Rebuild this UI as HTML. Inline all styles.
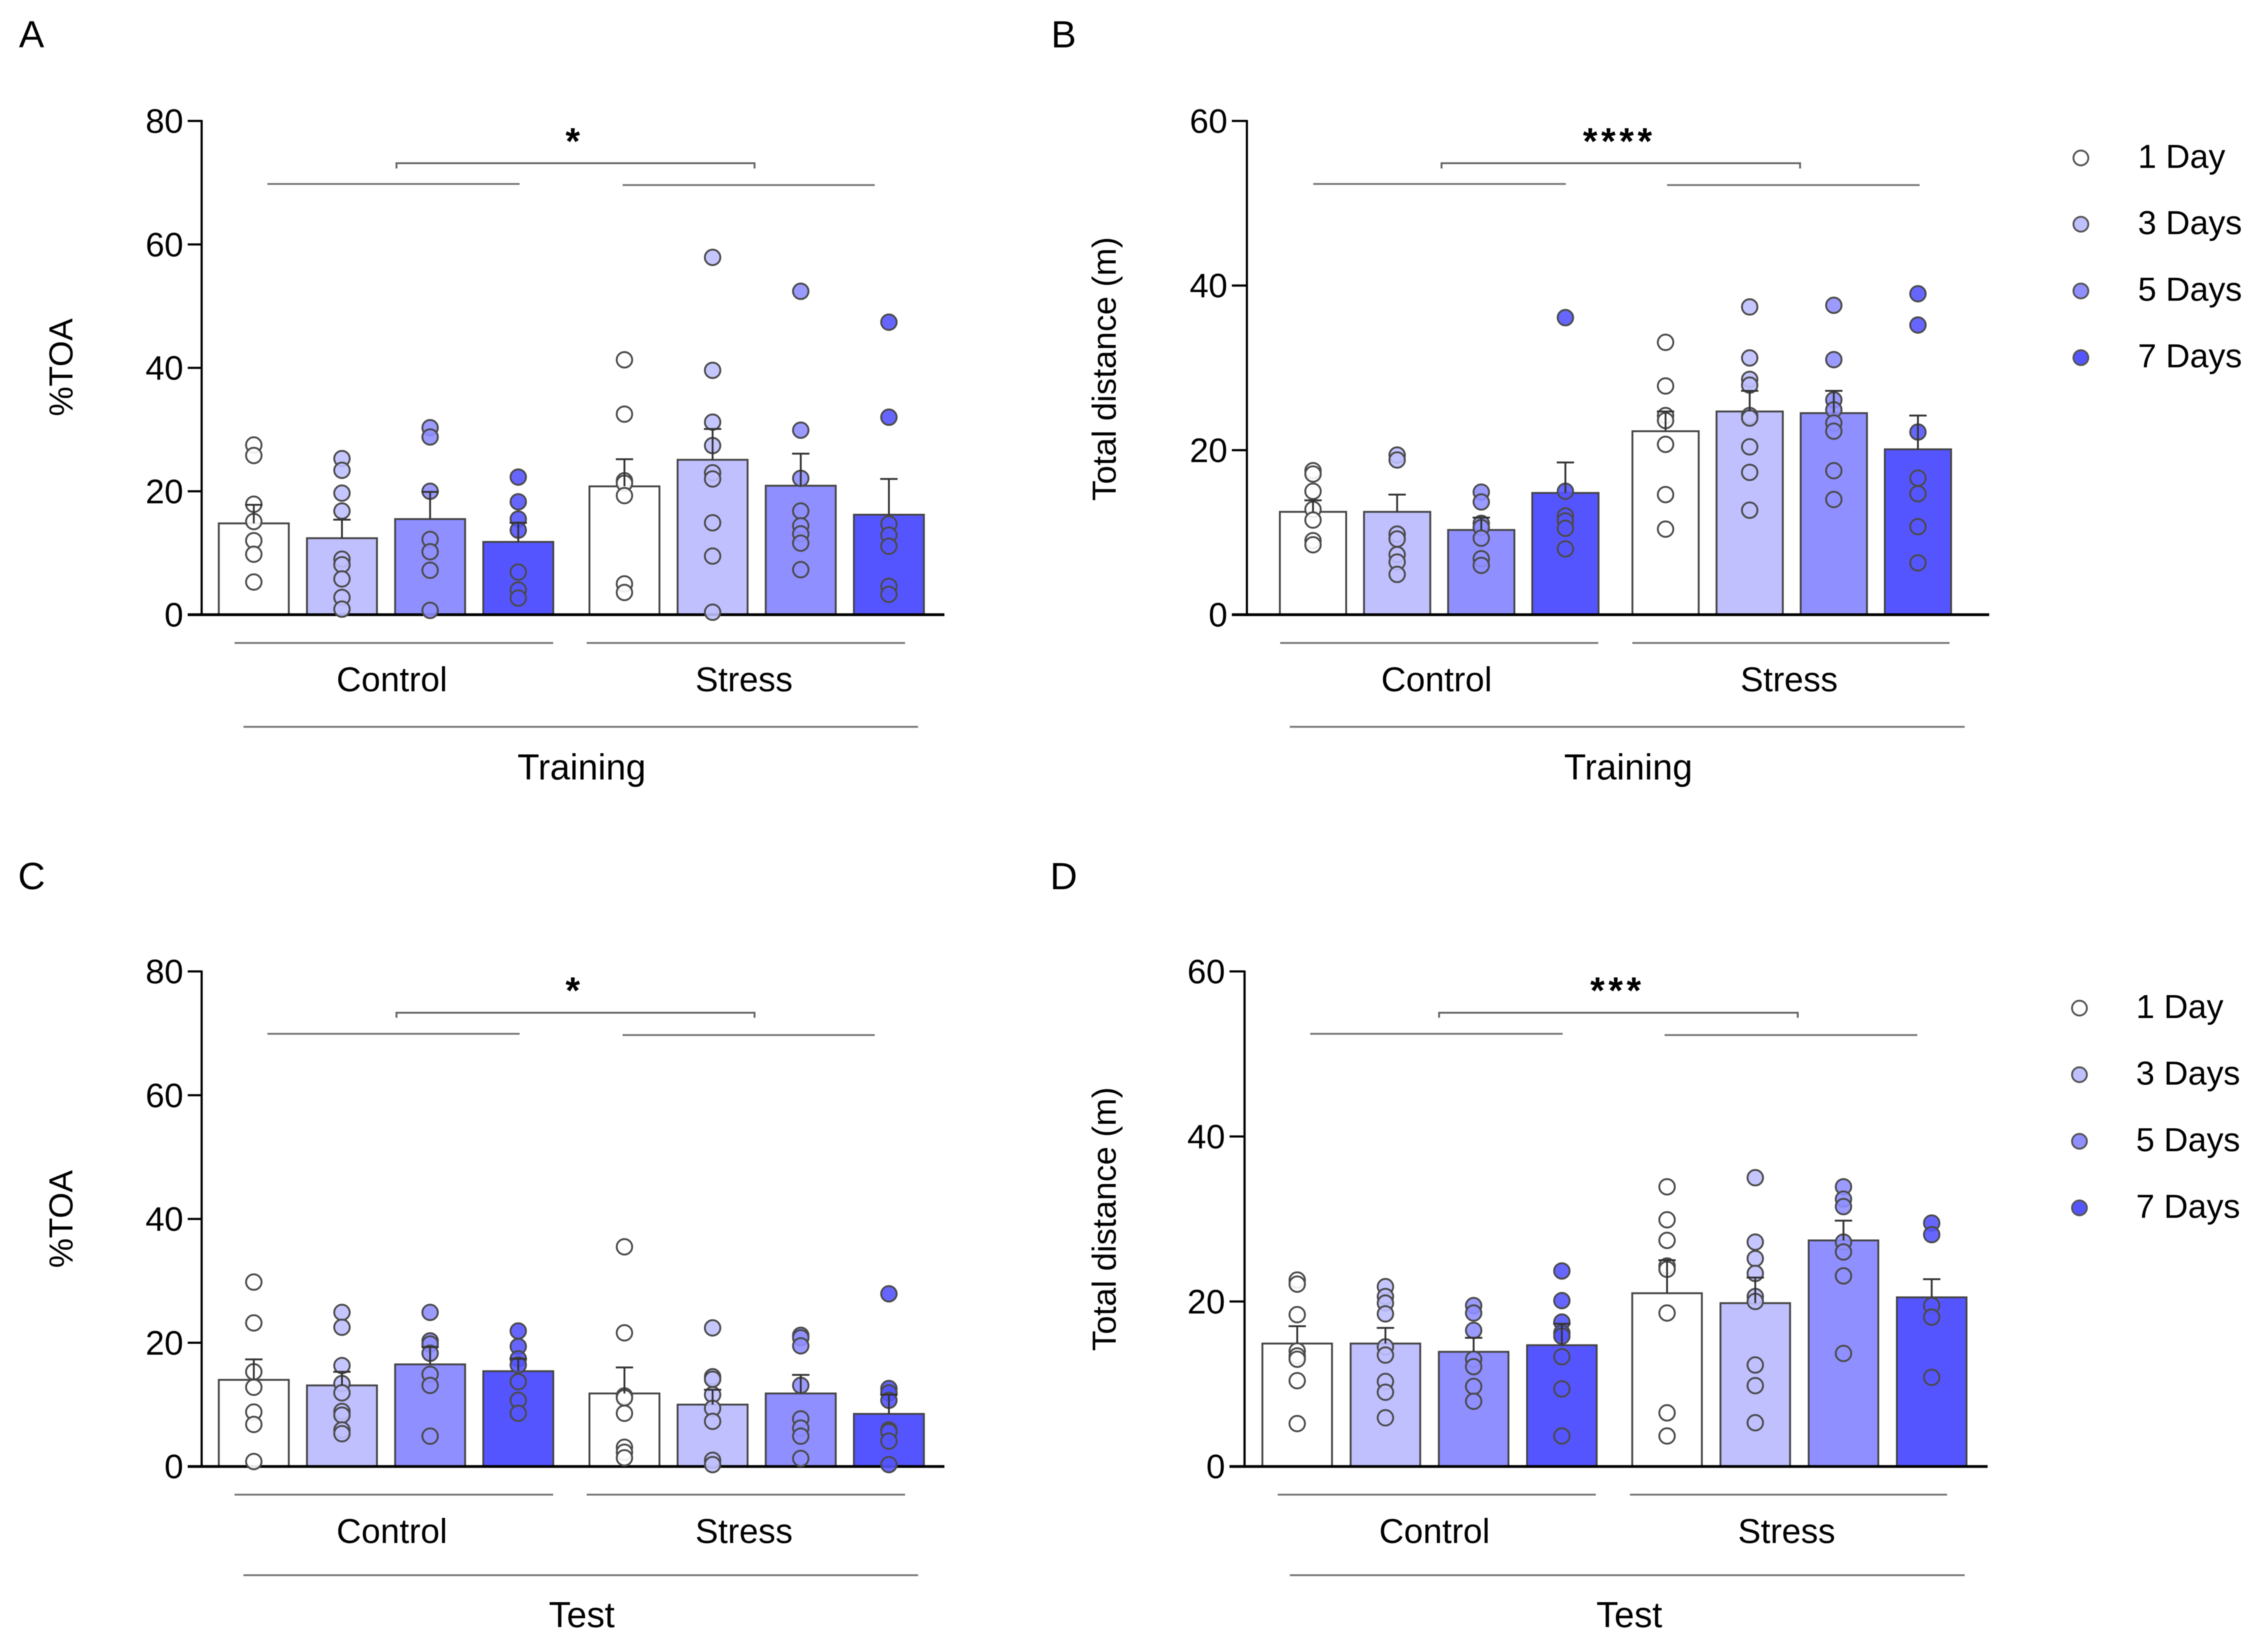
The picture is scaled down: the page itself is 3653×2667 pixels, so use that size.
<!DOCTYPE html>
<html lang="en">
<head>
<meta charset="utf-8">
<title>%TOA and total distance, training and test</title>
<style>
html,body{margin:0;padding:0;background:#fff;}
svg{display:block;filter:blur(0.7px);}
text{font-family:"Liberation Sans",Arial,sans-serif;fill:#000;}
</style>
</head>
<body>
<svg id="figure" xmlns="http://www.w3.org/2000/svg" width="3653" height="2667" viewBox="0 0 3653 2667"></svg>
<script>
// ---------- shared labels ----------
const dayLabels = ['1 Day', '3 Days', '5 Days', '7 Days'];
const groupLabels = ['Control', 'Stress'];
const toaTicks = [0, 20, 40, 60, 80];
const distanceTicks = [0, 20, 40, 60];

// ---------- panel A: %TOA, training ----------
const panelAMeans = [14.8, 12.4, 15.5, 11.8, 20.8, 25.1, 20.9, 16.2];
const panelAErrorTops = [17.8, 15.4, 19.9, 14.9, 25.2, 30.1, 26.1, 22];
const panelAPoints = [
  [27.5, 25.8, 17.9, 15.1, 12, 9.8, 5.3],
  [25.3, 23.4, 19.7, 16.8, 9, 8.1, 5.8, 2.8, 0.9],
  [30.3, 28.8, 20, 12.2, 10.2, 7.2, 0.7],
  [22.3, 18.3, 15.5, 13.7, 6.9, 4, 2.7],
  [41.3, 32.5, 21.7, 21.3, 19.3, 5, 3.6],
  [57.9, 39.6, 31.2, 27.4, 23, 22, 14.9, 9.5, 0.4],
  [52.4, 29.9, 22.1, 16.8, 14.4, 13.1, 11.6, 7.3],
  [47.4, 32, 14.7, 12.9, 11.1, 4.6, 3.3]
];

// ---------- panel B: total distance, training ----------
const panelBMeans = [12.5, 12.5, 10.3, 14.8, 22.3, 24.7, 24.5, 20.1];
const panelBErrorTops = [13.9, 14.6, 11.8, 18.5, 24.7, 27.2, 27.2, 24.2];
const panelBPoints = [
  [17.5, 17.1, 15, 12.8, 11.5, 9, 8.5],
  [19.4, 18.8, 9.8, 9.2, 7.3, 6.4, 4.9],
  [14.9, 13.7, 11.1, 10.6, 9.3, 6.8, 6],
  [36.1, 15, 12, 11.4, 10.5, 8],
  [33.1, 27.8, 24.2, 23.6, 20.7, 14.6, 10.4],
  [37.4, 31.2, 28.6, 27.9, 24.2, 23.9, 20.4, 17.3, 12.7],
  [37.6, 31, 26.1, 24.9, 23.3, 22.3, 17.5, 14],
  [39, 35.2, 22.2, 16.6, 14.7, 10.7, 6.3]
];

// ---------- panel C: %TOA, test ----------
const panelCMeans = [14, 13.1, 16.5, 15.4, 11.8, 10, 11.8, 8.5];
const panelCErrorTops = [17.3, 15.3, 19.3, 17.4, 16, 12.4, 14.8, 11.6];
const panelCPoints = [
  [29.8, 23.2, 15.3, 12.8, 8.8, 6.8, 0.8],
  [24.9, 22.5, 16.3, 13.4, 11.9, 8.9, 8.3, 5.9, 5.3],
  [24.9, 20.3, 19.8, 18.3, 14.9, 13.1, 4.9],
  [21.9, 19.4, 17.4, 16.4, 13.7, 10.7, 8.6],
  [35.5, 21.6, 11.4, 11.1, 8.6, 3.1, 2.3, 1.4],
  [22.4, 14.5, 14.1, 11.6, 9.4, 7.3, 1, 0.3],
  [21.2, 20.8, 19.5, 13.1, 7.7, 6.2, 4.9, 1.3],
  [27.9, 12.6, 11.9, 10.7, 5.9, 5.6, 4.1, 0.3]
];

// ---------- panel D: total distance, test ----------
const panelDMeans = [14.9, 14.9, 13.9, 14.7, 21, 19.8, 27.4, 20.5];
const panelDErrorTops = [17, 16.8, 15.6, 17.3, 25, 22.9, 29.8, 22.7];
const panelDPoints = [
  [22.6, 22.1, 18.4, 14, 13.4, 13, 10.4, 5.2],
  [21.8, 20.6, 19.8, 18.5, 14.5, 13.5, 10.3, 9, 5.9],
  [19.5, 18.6, 16.5, 13, 12.1, 9.7, 7.9],
  [23.7, 20.1, 17.5, 16.2, 15.8, 13.3, 9.4, 3.7],
  [33.9, 29.9, 27.4, 24.3, 23.9, 18.6, 6.5, 3.7],
  [35, 27.2, 25.2, 23.4, 20.6, 20, 12.3, 9.8, 5.3],
  [33.9, 32.4, 31.5, 27.2, 26, 23.1, 13.7],
  [29.5, 28.1, 19.5, 18.1, 10.8]
];

// ---------- styling and layout (not data) ----------
const SVGNS = 'http://www.w3.org/2000/svg';
const fills = ['#ffffff', '#c0c0ff', '#8f8fff', '#5555ff'];
const LINE = '#777777';

const panels = [
  { id: 'a', letter: 'A', letterX: 51, letterY: 57, yTitle: '%TOA', yTitleX: 100, yTitleY: 593,
    condition: 'Training', stars: '*', means: panelAMeans, errs: panelAErrorTops, pts: panelAPoints, ticks: toaTicks,
    axisX: 325.5, tickStart: 303, axisEnd: 1524.5, top: 195.3, base: 992.4, first: 409.7, second: 1008, step: 142.3, barW: 113,
    sigY1: 297, sigY2: 298.8, sig1: [431.6, 838.8], sig2: [1005, 1412], br: [640, 1218], brY: 263.5, brTick: 272, starX: 927.5, starY: 215.5,
    grpY: 1038, grp1: [378.6, 893], grp2: [947, 1461], condY: 1173.4, cond: [393, 1482], c1: 632.6, c2: 1201, c3: 939, grpLabelY: 1098.5, condLabelY: 1240 },
  { id: 'b', letter: 'B', letterX: 1717, letterY: 57, yTitle: 'Total distance (m)', yTitleX: 1784, yTitleY: 595.5,
    condition: 'Training', stars: '****', means: panelBMeans, errs: panelBErrorTops, pts: panelBPoints, ticks: distanceTicks,
    axisX: 2012.8, tickStart: 1988.5, axisEnd: 3211, top: 195.3, base: 992.4, first: 2119.5, second: 2688.6, step: 135.8, barW: 107,
    sigY1: 297, sigY2: 298.8, sig1: [2120, 2527.6], sig2: [2691, 3098.7], br: [2327, 2905.7], brY: 263.5, brTick: 272, starX: 2614, starY: 215.5,
    grpY: 1038, grp1: [2066.5, 2580], grp2: [2635, 3147], condY: 1173.4, cond: [2082, 3171.5], c1: 2319, c2: 2888, c3: 2628.5, grpLabelY: 1098.5, condLabelY: 1240,
    legendX: 3359, legendTextX: 3451, legendYs: [255, 362, 469.7, 577.4] },
  { id: 'c', letter: 'C', letterX: 51, letterY: 1416, yTitle: '%TOA', yTitleX: 100, yTitleY: 1968,
    condition: 'Test', stars: '*', means: panelCMeans, errs: panelCErrorTops, pts: panelCPoints, ticks: toaTicks,
    axisX: 325.5, tickStart: 303, axisEnd: 1524.5, top: 1568.3, base: 2367.5, first: 409.7, second: 1008, step: 142.3, barW: 113,
    sigY1: 1669, sigY2: 1671, sig1: [431.6, 838.8], sig2: [1005, 1412], br: [640, 1218], brY: 1635, brTick: 1643, starX: 927.5, starY: 1586.7,
    grpY: 2413, grp1: [378.6, 893], grp2: [947, 1461], condY: 2543, cond: [393, 1482], c1: 632.6, c2: 1201, c3: 939, grpLabelY: 2473.5, condLabelY: 2608.5 },
  { id: 'd', letter: 'D', letterX: 1717, letterY: 1416, yTitle: 'Total distance (m)', yTitleX: 1784, yTitleY: 1968,
    condition: 'Test', stars: '***', means: panelDMeans, errs: panelDErrorTops, pts: panelDPoints, ticks: distanceTicks,
    axisX: 2009, tickStart: 1984.7, axisEnd: 3208.5, top: 1568.3, base: 2367.5, first: 2094, second: 2691, step: 142.4, barW: 112.4,
    sigY1: 1669, sigY2: 1671, sig1: [2115, 2522.5], sig2: [2687, 3095], br: [2323, 2902], brY: 1635, brTick: 1643, starX: 2611, starY: 1586.7,
    grpY: 2413, grp1: [2062.6, 2576], grp2: [2631, 3143], condY: 2543, cond: [2082, 3171.5], c1: 2315.6, c2: 2884, c3: 2630, grpLabelY: 2473.5, condLabelY: 2608.5,
    legendX: 3356.7, legendTextX: 3448, legendYs: [1627.5, 1735, 1842.5, 1950] }
];

// ---------- axis functions ----------
function yScale(p, value) {
  const maxTick = p.ticks[p.ticks.length - 1];
  return p.base - (value / maxTick) * (p.base - p.top);
}
function xBand(p, index) {
  return index < 4 ? p.first + index * p.step : p.second + (index - 4) * p.step;
}

// ---------- drawing helpers ----------
const root = document.getElementById('figure');
function node(tag, parent, props) {
  const n = document.createElementNS(SVGNS, tag);
  for (const k in props) n.setAttribute(k, props[k]);
  parent.appendChild(n);
  return n;
}
function hline(parent, x1, x2, y, stroke, width) {
  return node('line', parent, { x1: x1, x2: x2, y1: y, y2: y, stroke: stroke, 'stroke-width': width });
}
function label(parent, str, x, y, size, anchor) {
  const t = node('text', parent, { x: x, y: y + size * 0.358 - 2.5, 'font-size': size, 'text-anchor': anchor });
  t.textContent = str;
  return t;
}

// ---------- draw ----------
panels.forEach(function (p) {
  const g = node('g', root, {});
  
  

  const letter = label(g, p.letter, p.letterX, p.letterY, 61, 'middle');
  
  

  // bars
  p.means.forEach(function (v, i) {
    const top = yScale(p, v);
    const bar = node('rect', g, {
      x: xBand(p, i) - p.barW / 2, y: top, width: p.barW, height: p.base - top,
      fill: fills[i % 4], stroke: '#444', 'stroke-width': 3
    });
    
    
  });

  // y axis
  const yAxis = node('line', g, { x1: p.axisX, x2: p.axisX, y1: p.top - 1.5, y2: p.base, stroke: '#000', 'stroke-width': 3.5 });
  
  
  const xAxis = hline(g, p.tickStart, p.axisEnd, p.base, '#000', 4.5);
  
  

  p.ticks.forEach(function (tick) {
    const ty = yScale(p, tick);
    const mark = hline(g, p.tickStart, p.axisX, ty, '#000', 3.5);
    
    
    const tl = label(g, String(tick), p.tickStart - 7, ty + 2, 55, 'end');
    
    
  });

  const yt = label(g, p.yTitle, 0, 0, 54, 'middle');
  yt.setAttribute('transform', 'translate(' + p.yTitleX + ',' + p.yTitleY + ') rotate(-90)');
  
  

  // individual points
  p.pts.forEach(function (series, i) {
    series.forEach(function (v, j) {
      const dot = node('circle', g, {
        cx: xBand(p, i), cy: yScale(p, v), r: 12.5,
        fill: fills[i % 4], 'fill-opacity': 0.9, stroke: '#4a4a4a', 'stroke-width': 3
      });
      
      
    });
  });

  // error bars
  p.errs.forEach(function (v, i) {
    const cx = xBand(p, i);
    const ey = yScale(p, v);
    const stem = node('line', g, { x1: cx, x2: cx, y1: yScale(p, p.means[i]), y2: ey, stroke: '#333', 'stroke-width': 3 });
    
    
    const cap = hline(g, cx - 14, cx + 14, ey, '#333', 3);
    
    
  });

  // significance annotation
  const sigLeft = hline(g, p.sig1[0], p.sig1[1], p.sigY1, LINE, 3);
  
  
  const sigRight = hline(g, p.sig2[0], p.sig2[1], p.sigY2, LINE, 3);
  
  
  const bracket = node('polyline', g, {
    points: p.br[0] + ',' + p.brTick + ' ' + p.br[0] + ',' + p.brY + ' ' + p.br[1] + ',' + p.brY + ' ' + p.br[1] + ',' + p.brTick,
    fill: 'none', stroke: '#666', 'stroke-width': 3
  });
  
  
  const star = node('text', g, { x: p.starX, y: p.starY + 33, 'font-size': 60, 'font-weight': 'bold', 'text-anchor': 'middle', 'letter-spacing': 6 });
  star.textContent = p.stars;
  
  

  // grouping lines and labels
  const g1 = hline(g, p.grp1[0], p.grp1[1], p.grpY, LINE, 3);
  
  
  const g2 = hline(g, p.grp2[0], p.grp2[1], p.grpY, LINE, 3);
  
  
  const g3 = hline(g, p.cond[0], p.cond[1], p.condY, LINE, 3);
  
  
  const l1 = label(g, groupLabels[0], p.c1, p.grpLabelY, 55.5, 'middle');
  
  
  const l2 = label(g, groupLabels[1], p.c2, p.grpLabelY, 55.5, 'middle');
  
  
  const l3 = label(g, p.condition, p.c3, p.condLabelY, 58, 'middle');
  
  

  // legend
  if (p.legendX) {
    const lg = node('g', g, {});
    
    
    dayLabels.forEach(function (txt, i) {
      const mk = node('circle', lg, { cx: p.legendX, cy: p.legendYs[i], r: 12, fill: fills[i], stroke: '#555', 'stroke-width': 3 });
      
      
      const lt = label(lg, txt, p.legendTextX, p.legendYs[i] - 1, 54, 'start');
      
      
    });
  }
});
</script>
</body>
</html>
